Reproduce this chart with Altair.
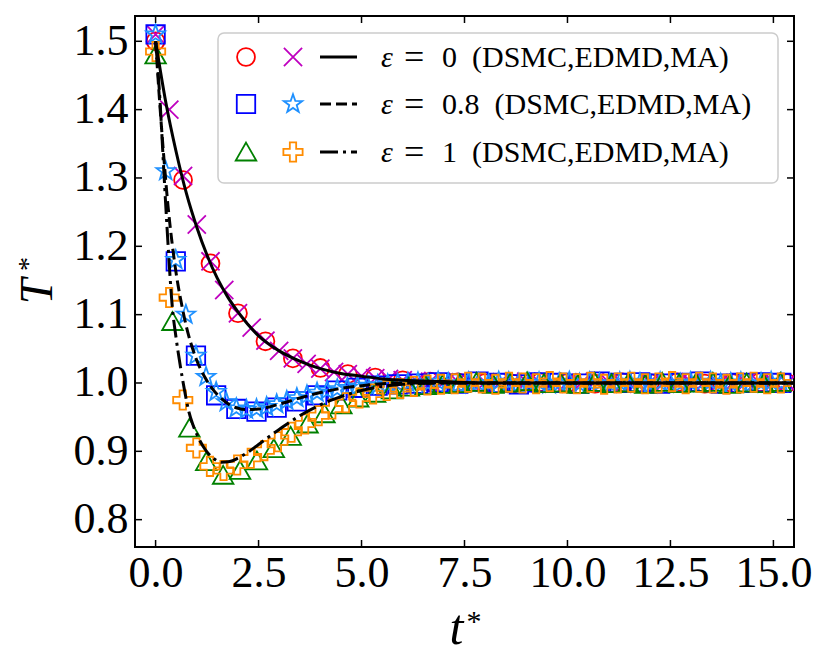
import altair as alt
import pandas as pd

# ---------------- data ----------------
# eps = 0 : DSMC (circles), EDMD (crosses), MA (solid line)
circ_t = [0.0, 0.667, 1.333, 2.0, 2.667, 3.333, 4.0, 4.667, 5.333, 6.0, 6.667, 7.333,
          8.0, 8.667, 9.333, 10.0, 10.667, 11.333, 12.0, 12.667, 13.333, 14.0, 14.667, 15.333]
circ_T = [1.500, 1.297, 1.175, 1.102, 1.061, 1.036, 1.022, 1.013, 1.008, 1.004, 1.002, 1.001,
          1.000, 0.999, 1.001, 1.000, 0.999, 1.001, 1.000, 1.001, 0.999, 1.000, 1.001, 1.000]

cross_t = [0.0, 0.333, 0.667, 1.0, 1.333, 1.667, 2.0, 2.333, 2.667, 3.0, 3.333, 3.667,
           4.0, 4.333, 4.667, 5.0, 5.333, 5.667, 6.0, 6.333, 6.667, 7.0, 7.333, 7.667,
           8.0, 8.333, 8.667, 9.0, 9.333, 9.667, 10.0, 10.333, 10.667, 11.0, 11.333, 11.667,
           12.0, 12.333, 12.667, 13.0, 13.333, 13.667, 14.0, 14.333, 14.667, 15.0, 15.333]
cross_T = [1.510, 1.400, 1.303, 1.232, 1.178, 1.136, 1.102, 1.081, 1.062, 1.047, 1.036, 1.028,
           1.021, 1.016, 1.013, 1.010, 1.007, 1.006, 1.004, 1.003, 1.002, 1.001, 1.002, 1.000,
           1.001, 0.999, 1.001, 1.002, 1.000, 0.999, 1.001, 1.000, 1.002, 1.001, 0.999, 1.000,
           1.001, 1.000, 0.999, 1.001, 1.002, 1.000, 0.999, 1.001, 1.000, 1.001, 1.000]

ma0_t = [0.0, 0.25, 0.5, 0.75, 1.0, 1.25, 1.5, 1.75, 2.0, 2.5, 3.0, 3.5, 4.0, 4.5, 5.0,
         5.5, 6.0, 7.0, 8.0, 15.5]
ma0_T = [1.500, 1.410, 1.338, 1.277, 1.228, 1.187, 1.153, 1.126, 1.104, 1.069, 1.047, 1.032,
         1.021, 1.014, 1.010, 1.006, 1.004, 1.002, 1.000, 1.000]

# eps = 0.8 : DSMC (squares), EDMD (stars), MA (dashed line)
sq_t = [0.0, 0.49, 0.98, 1.47, 1.96, 2.45, 2.94, 3.43, 3.92, 4.41, 4.9, 5.39, 5.88, 6.37,
        6.86, 7.35, 7.84, 8.33, 8.82, 9.31, 9.8, 10.29, 10.78, 11.27, 11.76, 12.25, 12.74,
        13.23, 13.72, 14.21, 14.7, 15.19]
sq_T = [1.510, 1.178, 1.040, 0.982, 0.962, 0.958, 0.964, 0.973, 0.982, 0.989, 0.993, 0.996,
        0.998, 0.999, 1.001, 0.999, 1.002, 1.000, 0.998, 1.001, 1.000, 0.999, 1.002, 1.000,
        1.001, 0.999, 1.000, 1.002, 0.999, 1.000, 1.001, 1.000]

star_t = [0.0, 0.245, 0.49, 0.735, 0.98, 1.225, 1.47, 1.715, 1.96, 2.205, 2.45, 2.695, 2.94,
          3.185, 3.43, 3.675, 3.92, 4.165, 4.41, 4.655, 4.9, 5.145, 5.39, 5.635, 5.88, 6.125,
          6.37, 6.615, 6.86, 7.105, 7.35, 7.595, 7.84, 8.085, 8.33, 8.575, 8.82, 9.065, 9.31,
          9.555, 9.8, 10.045, 10.29, 10.535, 10.78, 11.025, 11.27, 11.515, 11.76, 12.005,
          12.25, 12.495, 12.74, 12.985, 13.23, 13.475, 13.72, 13.965, 14.21, 14.455, 14.7,
          14.945, 15.19]
star_T = [1.510, 1.310, 1.180, 1.100, 1.040, 1.009, 0.987, 0.972, 0.963, 0.961, 0.962, 0.965,
          0.969, 0.974, 0.978, 0.982, 0.986, 0.989, 0.991, 0.993, 0.995, 0.996, 0.997, 0.998,
          0.999,
          1.000, 1.001, 0.999, 1.002, 1.000, 0.998, 1.001, 1.000, 0.999, 1.002,
          1.001, 0.999, 1.000, 1.001, 0.998, 1.000, 1.002, 0.999, 1.001, 1.000,
          0.999, 1.001, 1.002, 1.000, 0.998, 1.001, 1.000, 0.999, 1.001, 1.000,
          1.002, 0.999, 1.000, 1.001, 0.999, 1.000, 1.002, 1.000]

ma08_t = [0.0, 0.1, 0.2, 0.3, 0.4, 0.5, 0.6, 0.7, 0.8, 0.9, 1.0, 1.2, 1.4, 1.6, 1.8, 2.0,
          2.2, 2.5, 3.0, 3.5, 4.0, 4.5, 5.0, 5.5, 6.0, 15.5]
ma08_T = [1.500, 1.410, 1.330, 1.260, 1.205, 1.160, 1.125, 1.095, 1.070, 1.050, 1.033, 1.008,
          0.990, 0.977, 0.968, 0.963, 0.961, 0.962, 0.969, 0.978, 0.986, 0.992, 0.996, 0.999,
          1.000, 1.000]

# eps = 1 : DSMC (triangles), EDMD (plus), MA (dash-dot line)
tri_t = [0.0, 0.41, 0.82, 1.23, 1.64, 2.05, 2.46, 2.87, 3.28, 3.69, 4.1, 4.51, 4.92, 5.33,
         5.74, 6.15, 6.56, 6.97, 7.38, 7.79, 8.2, 8.61, 9.02, 9.43, 9.84, 10.25, 10.66,
         11.07, 11.48, 11.89, 12.3, 12.71, 13.12, 13.53, 13.94, 14.35, 14.76, 15.17]
tri_T = [1.480, 1.090, 0.934, 0.885, 0.865, 0.872, 0.886, 0.904, 0.922, 0.940, 0.955, 0.968,
         0.978, 0.985, 0.990, 0.994, 0.996, 0.998,
         0.999, 1.001, 0.998, 1.000, 1.002, 0.999, 1.000, 0.998, 1.001, 0.999,
         1.000, 0.998, 1.001, 0.999, 1.000, 1.001, 0.998, 1.000, 0.999, 1.001]

plus_t = [0.0, 0.33, 0.66, 0.99, 1.32, 1.65, 1.98, 2.31, 2.64, 2.97, 3.30, 3.63, 3.96, 4.29,
          4.62, 4.95, 5.28, 5.61, 5.94, 6.27, 6.60, 6.93, 7.26, 7.59, 7.92, 8.25, 8.58, 8.91,
          9.24, 9.57, 9.90, 10.23, 10.56, 10.89, 11.22, 11.55, 11.88, 12.21, 12.54, 12.87,
          13.20, 13.53, 13.86, 14.19, 14.52, 14.85, 15.18]
plus_T = [1.485, 1.125, 0.975, 0.905, 0.878, 0.872, 0.880, 0.890, 0.901, 0.914, 0.928, 0.940,
          0.952, 0.962, 0.971, 0.978, 0.984, 0.989, 0.992, 0.995, 0.997, 0.998,
          0.999, 1.001, 1.000, 0.998, 1.001, 1.000, 0.999, 1.002, 1.000, 0.999,
          1.001, 0.998, 1.000, 1.001, 0.999, 1.000, 1.002, 0.999, 1.001, 1.000,
          0.998, 1.000, 1.001, 0.999, 1.000]

ma1_t = [0.0, 0.1, 0.2, 0.3, 0.4, 0.5, 0.6, 0.7, 0.8, 0.9, 1.0, 1.2, 1.4, 1.6, 1.8, 2.0,
         2.2, 2.5, 3.0, 3.5, 4.0, 4.5, 5.0, 5.5, 6.0, 7.0, 15.5]
ma1_T = [1.500, 1.420, 1.310, 1.205, 1.115, 1.065, 1.025, 0.990, 0.960, 0.940, 0.925, 0.903,
         0.890, 0.884, 0.885, 0.890, 0.897, 0.910, 0.932, 0.952, 0.968, 0.980, 0.989, 0.995,
         0.998, 1.000, 1.000]

eps_values = ["0", "0.8", "1"]
legend_suffix = "(DSMC,EDMD,MA)"
x_ticks = [0, 2.5, 5, 7.5, 10, 12.5, 15]
y_ticks = [0.8, 0.9, 1.0, 1.1, 1.2, 1.3, 1.4, 1.5]

# ---------------- styling ----------------
FONT = "Liberation Serif"
W, H = 659, 531
X_PATH = "M-1,-1L1,1M-1,1L1,-1"
STAR_PATH = ("M0,-1L0.235,-0.324L0.951,-0.309L0.380,0.124L0.588,0.809L0,0.4"
             "L-0.588,0.809L-0.380,0.124L-0.951,-0.309L-0.235,-0.324Z")
PLUS_PATH = ("M-0.33,-1L0.33,-1L0.33,-0.33L1,-0.33L1,0.33L0.33,0.33L0.33,1L-0.33,1"
             "L-0.33,0.33L-1,0.33L-1,-0.33L-0.33,-0.33Z")
TRI_PATH = "M0,-1.05L1.15,0.95L-1.15,0.95Z"

xs = alt.Scale(domain=[-0.5, 15.5], nice=False, zero=False)
ys = alt.Scale(domain=[0.76, 1.537], nice=False, zero=False)

x_axis = alt.Axis(values=x_ticks, format=".1f", ticks=False, domain=False, grid=False,
                  labelFont=FONT, labelFontSize=44, labelColor="black", labelPadding=4,
                  labelFlush=False, labelOverlap=False,
                  title="t", titleFont=FONT, titleFontSize=50, titleFontStyle="italic",
                  titleFontWeight="normal", titleColor="black", titleX=321, titleY=96,
                  titleBaseline="alphabetic", titleAlign="center")
y_axis = alt.Axis(values=y_ticks, format=".1f", ticks=False, domain=False, grid=False,
                  labelFont=FONT, labelFontSize=44, labelColor="black", labelPadding=7,
                  labelOverlap=False,
                  title="T", titleFont=FONT, titleFontSize=46, titleFontStyle="italic",
                  titleFontWeight="normal", titleColor="black", titleX=-84, titleY=275,
                  titleBaseline="alphabetic", titleAlign="center")

XE = alt.X("t:Q", scale=xs, axis=x_axis)
YE = alt.Y("T:Q", scale=ys, axis=y_axis)


def points(t, T, shape, color, size):
    df = pd.DataFrame({"t": t, "T": T})
    return alt.Chart(df).mark_point(shape=shape, size=size, filled=False, stroke=color,
                                    strokeWidth=1.8, opacity=1, clip=True).encode(x=XE, y=YE)


def curve(t, T, dash):
    df = pd.DataFrame({"t": t, "T": T})
    kw = {"strokeDash": dash} if dash else {}
    return alt.Chart(df).mark_line(color="black", strokeWidth=3, interpolate="monotone",
                                   clip=True, **kw).encode(x=XE, y=YE)


DASHED = [11, 5]
DASHDOT = [18, 5, 3, 5]

series = [
    ("circle", "#ff0000", 320, X_PATH, "#bf00bf", 330, None),
    ("square", "#0000ff", 340, STAR_PATH, "#1e90ff", 380, DASHED),
    (TRI_PATH, "#008000", 320, PLUS_PATH, "#ff8c00", 370, DASHDOT),
]
data_sets = [
    (circ_t, circ_T, cross_t, cross_T, ma0_t, ma0_T),
    (sq_t, sq_T, star_t, star_T, ma08_t, ma08_T),
    (tri_t, tri_T, plus_t, plus_T, ma1_t, ma1_T),
]

layers = []
for (s1, c1, z1, s2, c2, z2, dash), (t1, T1, t2, T2, tm, Tm) in zip(series, data_sets):
    layers.append(points(t1, T1, s1, c1, z1))
    layers.append(points(t2, T2, s2, c2, z2))
for (s1, c1, z1, s2, c2, z2, dash), (t1, T1, t2, T2, tm, Tm) in zip(series, data_sets):
    layers.append(curve(tm, Tm, dash))

# inward ticks on all four sides
xt = pd.DataFrame({"t": x_ticks})
yt = pd.DataFrame({"T": y_ticks})
tick_kw = dict(color="black", strokeWidth=1.5)
layers.append(alt.Chart(xt).mark_rule(**tick_kw).encode(x=XE, y=alt.value(H), y2=alt.value(H - 7)))
layers.append(alt.Chart(xt).mark_rule(**tick_kw).encode(x=XE, y=alt.value(0), y2=alt.value(7)))
layers.append(alt.Chart(yt).mark_rule(**tick_kw).encode(y=YE, x=alt.value(0), x2=alt.value(7)))
layers.append(alt.Chart(yt).mark_rule(**tick_kw).encode(y=YE, x=alt.value(W), x2=alt.value(W - 7)))

one = alt.Data(values=[{}])

# superscript asterisks of the axis titles
layers.append(alt.Chart(one).mark_text(font=FONT, fontSize=30, color="black", align="center",
                                       baseline="middle").encode(
    x=alt.value(339), y=alt.value(606), text=alt.value("*")))
layers.append(alt.Chart(one).mark_text(font=FONT, fontSize=28, color="black", align="center",
                                       baseline="middle", angle=270).encode(
    x=alt.value(-106), y=alt.value(248), text=alt.value("*")))

# legend (drawn by hand: three handles per row)
layers.append(alt.Chart(one).mark_rect(fill="white", fillOpacity=0.8, stroke="#cccccc",
                                       strokeWidth=1.5, cornerRadius=6).encode(
    x=alt.value(83), x2=alt.value(643), y=alt.value(17), y2=alt.value(167)))
row_y = [41, 88, 136]
txt_kw = dict(align="left", baseline="middle", font=FONT, fontSize=30, color="black")
for (s1, c1, z1, s2, c2, z2, dash), ry, ev in zip(series, row_y, eps_values):
    layers.append(alt.Chart(one).mark_point(shape=s1, size=z1, filled=False, stroke=c1,
                                            strokeWidth=1.8, opacity=1).encode(
        x=alt.value(111), y=alt.value(ry)))
    layers.append(alt.Chart(one).mark_point(shape=s2, size=z2, filled=False, stroke=c2,
                                            strokeWidth=1.8, opacity=1).encode(
        x=alt.value(158), y=alt.value(ry)))
    kw = {"strokeDash": dash} if dash else {}
    layers.append(alt.Chart(one).mark_rule(color="black", strokeWidth=3, **kw).encode(
        x=alt.value(185), x2=alt.value(222), y=alt.value(ry)))
    layers.append(alt.Chart(one).mark_text(fontStyle="italic", **txt_kw).encode(
        x=alt.value(246), y=alt.value(ry + 1), text=alt.value("ε")))
    layers.append(alt.Chart(one).mark_text(align="left", baseline="middle", font=FONT,
                                           fontSize=36, color="black").encode(
        x=alt.value(269), y=alt.value(ry + 1), text=alt.value("=")))
    layers.append(alt.Chart(one).mark_text(**txt_kw).encode(
        x=alt.value(307), y=alt.value(ry + 1), text=alt.value(ev + "\u2002" + legend_suffix)))

chart = alt.layer(*layers).properties(
    width=W, height=H,
    padding={"left": 127, "top": 8, "right": 20, "bottom": 110},
    autosize=alt.AutoSizeParams(type="none"),
).configure_view(stroke="black", strokeWidth=2)

chart.save("out.html", embed_options={"renderer": "svg", "actions": False})
